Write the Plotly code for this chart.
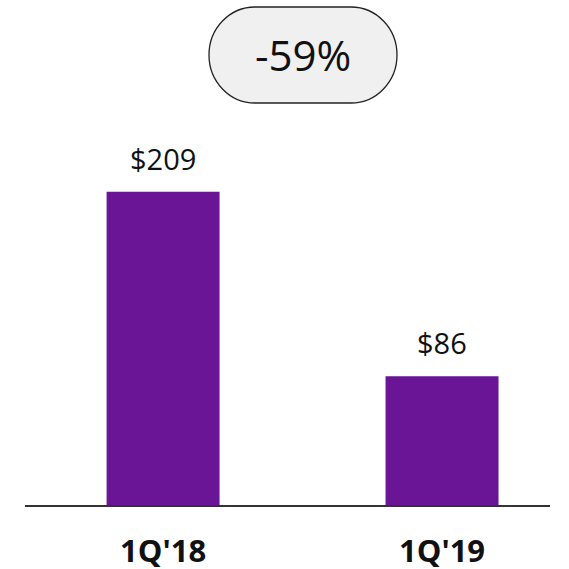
import plotly.graph_objects as go

categories = ["1Q'18", "1Q'19"]
values = [209, 86]
value_labels = ["$209", "$86"]
change_label = "-59%"

BAR_COLOR = "#6A1596"
FONT = "Open Sans"

fig = go.Figure()
fig.add_trace(go.Bar(
    x=categories, y=values, width=0.405,
    marker=dict(color=BAR_COLOR, line=dict(width=0)),
    hoverinfo="skip",
))

for c, v, t in zip(categories, values, value_labels):
    fig.add_annotation(x=c, y=v, text=t, showarrow=False, yanchor="bottom",
                       yshift=12, font=dict(family=FONT, size=29, color="#111111"))

# rounded pill box in pixel units around the change label
w, h, rx, ry = 188, 96, 46, 48
k = 0.5523
hw, hh = w / 2, h / 2
path = (
    f"M {-hw+rx},{hh} L {hw-rx},{hh} "
    f"C {hw-rx+rx*k},{hh} {hw},{hh-ry+ry*k} {hw},{hh-ry} "
    f"L {hw},{-hh+ry} "
    f"C {hw},{-hh+ry-ry*k} {hw-rx+rx*k},{-hh} {hw-rx},{-hh} "
    f"L {-hw+rx},{-hh} "
    f"C {-hw+rx-rx*k},{-hh} {-hw},{-hh+ry-ry*k} {-hw},{-hh+ry} "
    f"L {-hw},{hh-ry} "
    f"C {-hw},{hh-ry+ry*k} {-hw+rx-rx*k},{hh} {-hw+rx},{hh} Z"
)
cx_paper = (303 - 25) / 525
cy_paper = 1 - 55 / 505
fig.add_shape(type="path", path=path, xref="paper", yref="paper",
              xsizemode="pixel", ysizemode="pixel",
              xanchor=cx_paper, yanchor=cy_paper,
              fillcolor="#F0F0F0", line=dict(color="#222222", width=1.3), layer="above")
fig.add_annotation(x=cx_paper, y=cy_paper, xref="paper", yref="paper",
                   xanchor="center", yanchor="middle",
                   text=change_label, showarrow=False,
                   font=dict(family=FONT, size=42, color="#111111"))

fig.update_layout(
    width=569, height=569,
    margin=dict(l=25, r=19, t=0, b=64, autoexpand=False),
    paper_bgcolor="white", plot_bgcolor="white",
    showlegend=False,
    font=dict(family=FONT, color="#111111"),
    xaxis=dict(type="category", range=[-0.495, 1.387], showgrid=False,
               showline=True, linecolor="#333333", linewidth=2,
               automargin=False,
               ticks="", tickfont=dict(family=FONT, size=31, color="#111111", weight="bold"),
               ticklabelstandoff=18),
    yaxis=dict(range=[0, 337], visible=False, showgrid=False, zeroline=False,
               automargin=False),
)

fig.write_html("out.html", config={"displayModeBar": False},
               post_script="document.body.style.margin='0';")
